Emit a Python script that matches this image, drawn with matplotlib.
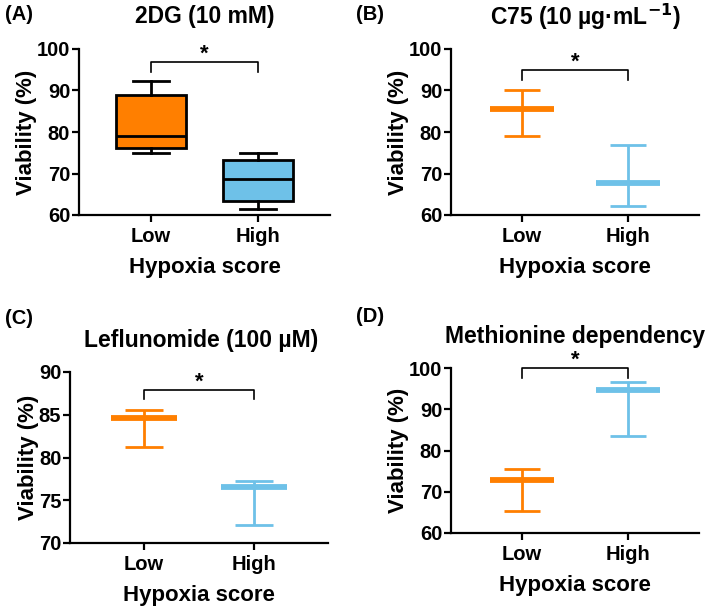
import matplotlib.pyplot as plt

plt.rcParams['font.family'] = ['Liberation Sans', 'DejaVu Sans']
plt.rcParams['font.weight'] = 'bold'

groups = ['Low', 'High']
orange = '#FF7F00'
blue = '#6EC1E8'

# (A) 2DG box plot: whislo, q1, med, q3, whishi
a_low = [75.0, 76.1, 79.0, 88.9, 92.2]
a_high = [61.5, 63.4, 68.7, 73.3, 75.0]

# (B)-(D) mean with error bar: mean, top, bottom
b_low = [85.6, 90.2, 79.0]
b_high = [67.8, 76.8, 62.2]
c_low = [84.6, 85.6, 81.2]
c_high = [76.5, 77.3, 72.1]
d_low = [72.8, 75.5, 65.4]
d_high = [94.7, 96.6, 83.6]

titles = ['2DG (10 mM)', r'C75 (10 µg·mL$^{\mathbf{-1}}$)',
          'Leflunomide (100 µM)', 'Methionine dependency']
letters = ['(A)', '(B)', '(C)', '(D)']
ylims = [(60, 100), (60, 100), (70, 90), (60, 100)]
yticks = [[60, 70, 80, 90, 100], [60, 70, 80, 90, 100],
          [70, 75, 80, 85, 90], [60, 70, 80, 90, 100]]
# bracket: bar y, leg bottom y
brackets = [(96.9, 94.5), (94.9, 92.5), (87.9, 86.8), (100.0, 97.6)]

W, H = 709, 612
fig = plt.figure(figsize=(W / 100, H / 100), dpi=100)

# axes boxes in pixels: left, top, right, bottom
boxes = [(79, 49, 330, 215), (451, 49, 699, 215),
         (70, 372, 328, 543), (451, 368, 699, 533)]
title_dx = [0, 10, 2, 0]
axes = []
for (l, t, r, b) in boxes:
    ax = fig.add_axes([l / W, 1 - b / H, (r - l) / W, (b - t) / H])
    axes.append(ax)

# (A) box plot
ax = axes[0]
stats = []
for s in [a_low, a_high]:
    stats.append(dict(whislo=s[0], q1=s[1], med=s[2], q3=s[3], whishi=s[4]))
bp = ax.bxp(stats, positions=[0, 1], widths=0.65, showfliers=False,
            patch_artist=True,
            boxprops=dict(linewidth=2, edgecolor='black'),
            medianprops=dict(color='black', linewidth=2),
            whiskerprops=dict(color='black', linewidth=2),
            capprops=dict(color='black', linewidth=2), capwidths=0.33)
for patch, c in zip(bp['boxes'], [orange, blue]):
    patch.set_facecolor(c)

# (B)-(D) mean + error bars
for ax, low, high in [(axes[1], b_low, b_high), (axes[2], c_low, c_high),
                      (axes[3], d_low, d_high)]:
    for x, s, c in [(0, low, orange), (1, high, blue)]:
        ax.hlines(s[0], x - 0.3, x + 0.3, color=c, linewidth=4.2)
        ax.vlines(x, s[2], s[1], color=c, linewidth=2)
        ax.hlines([s[1], s[2]], x - 0.17, x + 0.17, color=c, linewidth=2)

for i, ax in enumerate(axes):
    ax.set_xlim(-0.67, 1.67)
    ax.set_ylim(*ylims[i])
    ax.set_yticks(yticks[i])
    ax.set_xticks([0, 1])
    ax.set_xticklabels(groups)
    for sp in ['top', 'right']:
        ax.spines[sp].set_visible(False)
    for sp in ['left', 'bottom']:
        ax.spines[sp].set_linewidth(1.6)
    ax.tick_params(width=1.6, length=5.3, labelsize=14.5)
    ax.tick_params(axis='x', pad=3)
    ax.tick_params(axis='y', pad=1)
    plt.setp(ax.get_xticklabels() + ax.get_yticklabels(), fontweight='bold')
    ax.set_xlabel('Hypoxia score', fontsize=16, fontweight='bold', labelpad=8.5)
    ax.set_ylabel('Viability (%)', fontsize=16, fontweight='bold', labelpad=0)
    ax.text(0.5 + title_dx[i] / (boxes[i][2] - boxes[i][0]),
            1 + 32 / (boxes[i][3] - boxes[i][1]), titles[i],
            transform=ax.transAxes, ha='center', va='center',
            fontsize=16.5, fontweight='bold')
    ybar, yleg = brackets[i]
    ax.plot([0, 0, 1, 1], [yleg, ybar, ybar, yleg], color='black',
            linewidth=1.2, clip_on=False)
    ax.annotate('*', xy=(0.5, ybar), xytext=(0, 8), textcoords='offset pixels',
                ha='center', va='center', fontsize=16, fontweight='bold',
                annotation_clip=False)

fig.text(5 / W, 1 - 15 / H, letters[0], fontsize=14.5, fontweight='bold', va='center')
fig.text(356 / W, 1 - 15 / H, letters[1], fontsize=14.5, fontweight='bold', va='center')
fig.text(5 / W, 1 - 319 / H, letters[2], fontsize=14.5, fontweight='bold', va='center')
fig.text(356 / W, 1 - 316 / H, letters[3], fontsize=14.5, fontweight='bold', va='center')

fig.savefig('out.png', dpi=100)
